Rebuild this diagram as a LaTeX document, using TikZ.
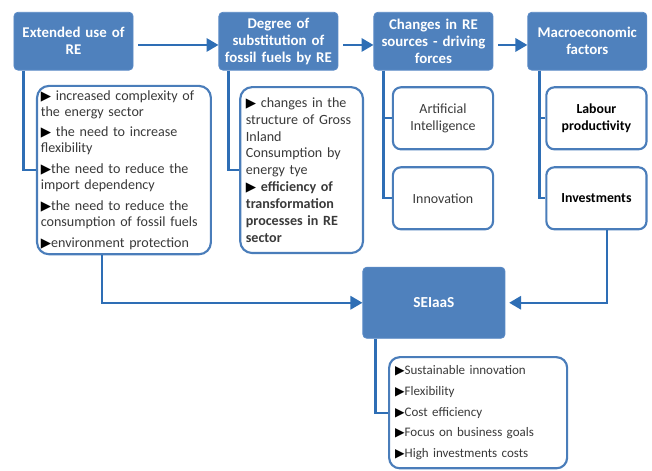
\documentclass[tikz,border=0pt]{standalone}
\usepackage{fontspec}
\setmainfont{Carlito}
\newfontfamily\symfont[Scale=0.95]{DejaVu Sans}
\usetikzlibrary{positioning, calc, arrows.meta}
\definecolor{headcolor}{HTML}{4F81BD}
\definecolor{headedge}{HTML}{5A8AC6}
\definecolor{linkcolor}{HTML}{2E6EB5}
\definecolor{boxedge}{HTML}{4A7DBA}
\definecolor{txtcolor}{HTML}{3A3A3A}
\newcommand{\bul}{{\symfont\color{black}▶}}

\begin{document}
\begin{tikzpicture}[
    align=center,
    font=\fontsize{10.6}{12}\selectfont,
    head/.style={draw=headedge, fill=headcolor, rectangle, rounded corners=3pt, line width=0.6pt, text width=2.95cm, inner xsep=0.1cm, minimum height=1.53cm, text=white, font=\fontsize{11.2}{12.75}\selectfont\bfseries},
    listbox/.style={draw=boxedge, fill=white, rectangle, rounded corners=9pt, line width=1.6pt, align=left, inner xsep=0.1cm, minimum height=4.39cm, text=txtcolor},
    item/.style={draw=boxedge, fill=white, rectangle, rounded corners=6pt, line width=1.6pt, minimum width=2.65cm, minimum height=1.64cm, text=txtcolor, font=\fontsize{10.5}{12.5}\selectfont},
    arrow/.style={-{Triangle[length=9pt, width=10pt]}, line width=1.8pt, draw=linkcolor},
    line/.style={line width=1.8pt, draw=linkcolor}
]
    \useasboundingbox (0,0) rectangle (17.25,12.44);

    % =========================================================================
    % TOP ROW
    % =========================================================================
    \node (ext) [head] at (1.945, 11.35) {Extended use of\\RE};
    \node (deg) [head, right=2.25cm of ext] {Degree of\\substitution of\\fossil fuels by RE};
    \node (chg) [head, right=0.93cm of deg] {Changes in RE\\sources - driving\\forces};
    \node (macro) [head, right=0.9cm of chg] {Macroeconomic\\factors};

    \draw [arrow, shorten <=1.3mm] ([yshift=-1mm]ext.east) -- ([yshift=-1mm]deg.west);
    \draw [arrow, shorten <=1.3mm] ([yshift=-1mm]deg.east) -- ([yshift=-1mm]chg.west);
    \draw [arrow, shorten <=1.3mm] ([yshift=-1mm]chg.east) -- ([yshift=-1mm]macro.west);

    % =========================================================================
    % DETAIL BOXES
    % =========================================================================
    \node (reasons) [listbox, text width=4.4cm] at (3.28, 7.94) {%
        \bul\ increased complexity of\\the energy sector\\[3.75pt]
        \bul\ the need to increase\\flexibility\\[3.75pt]
        \bul the need to reduce the\\import dependency\\[3.75pt]
        \bul the need to reduce the\\consumption of fossil fuels\\[3.75pt]
        \bul environment protection};
    \node (subst) [listbox, text width=2.95cm, inner xsep=0.15cm, font=\fontsize{10.6}{12.75}\selectfont] at (7.98, 7.94) {%
        \bul\ changes in the\\structure of Gross\\Inland\\Consumption by\\energy tye\\
        \textbf{\bul\ efficiency of}\\\textbf{transformation}\\\textbf{processes in RE}\\\textbf{sector}};

    \node (ai) [item] at (11.72, 9.31) {Artificial\\Intelligence};
    \node (innov) [item, below=0.42cm of ai] {Innovation};
    \node (labour) [item, font=\fontsize{10.4}{12.5}\selectfont\bfseries, text=black] at (15.78, 9.31) {Labour\\productivity};
    \node (invest) [item, below=0.42cm of labour, font=\fontsize{10.4}{12.5}\selectfont\bfseries, text=black] {Investments};

    \draw [line] ([xshift=0.265cm]ext.south west) |- (reasons.west);
    \draw [line] ([xshift=0.265cm]deg.south west) |- (subst.west);
    \draw [line] ([xshift=0.265cm]chg.south west) |- (innov.west);
    \draw [line] ([xshift=0.265cm]chg.south west) |- (ai.west);
    \draw [line] ([xshift=0.32cm]macro.south west) |- (invest.west);
    \draw [line] ([xshift=0.32cm]macro.south west) |- (labour.west);

    % =========================================================================
    % SEIaaS
    % =========================================================================
    \node (seiaas) [draw=headedge, fill=headcolor, rectangle, rounded corners=3pt, line width=0.6pt, minimum width=3.76cm, minimum height=1.88cm, text=white, font=\fontsize{11.5}{13}\selectfont\bfseries] at (11.48, 4.43) {SEIaaS};
    \node (gains) [listbox, rounded corners=8pt, text width=4.39cm, inner xsep=0.16cm, minimum height=2.94cm, font=\fontsize{9.8}{15.5}\selectfont] at (12.65, 1.52) {%
        \bul Sustainable innovation\\
        \bul Flexibility\\
        \bul Cost efficiency\\
        \bul Focus on business goals\\
        \bul High investments costs};

    \draw [arrow] ([xshift=-0.58cm]reasons.south) |- (seiaas.west);
    \draw [arrow] ([xshift=0.28cm]invest.south) |- ([xshift=1mm]seiaas.east);
    \draw [line] ([xshift=0.34cm]seiaas.south west) |- (gains.west);

\end{tikzpicture}
\end{document}
